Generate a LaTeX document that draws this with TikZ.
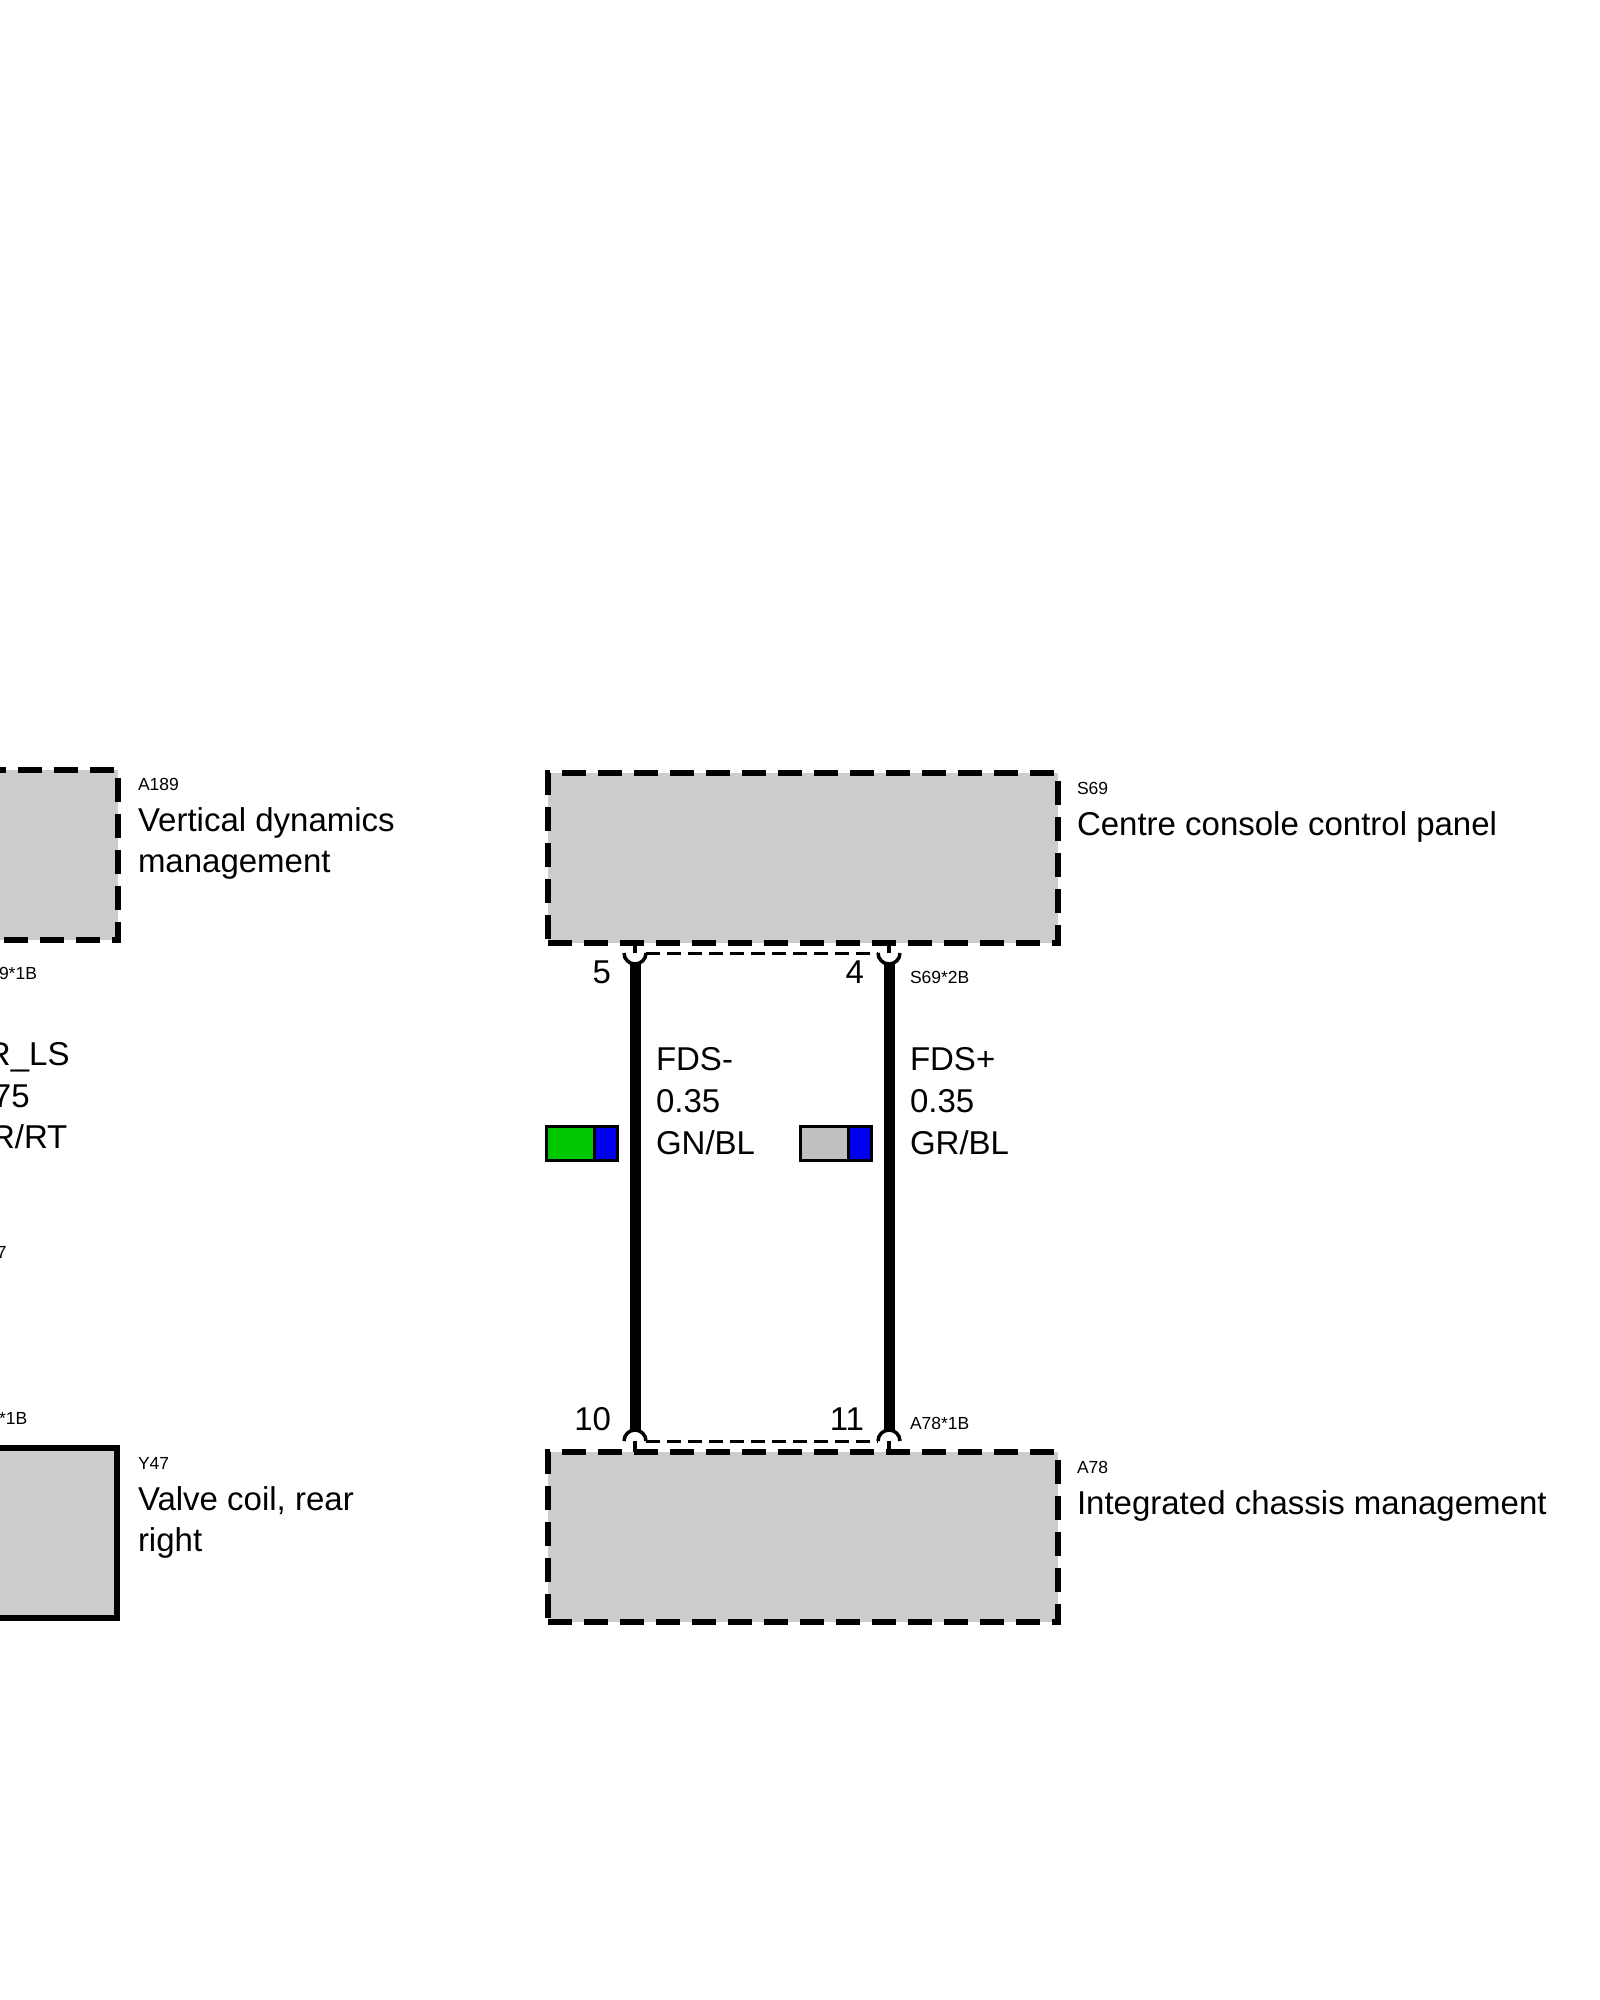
\documentclass[tikz,border=0pt]{standalone}
\usepackage{fontspec}
\setmainfont{Liberation Sans}
\usetikzlibrary{positioning}

\definecolor{boxgrey}{RGB}{204,204,204}
\definecolor{wiregreen}{RGB}{0,200,0}
\definecolor{wireblue}{RGB}{0,0,240}
\definecolor{wiregrey}{RGB}{192,192,192}

\begin{document}
\begin{tikzpicture}[x=1pt, y=-1pt,
    every node/.append style={inner sep=0pt, outer sep=0pt},
    module/.style={draw, fill=boxgrey, line width=6pt, dash pattern=on 24pt off 12pt,
        minimum width=510pt, minimum height=170pt},
    solidmodule/.style={draw, fill=boxgrey, line width=6pt,
        minimum width=510pt, minimum height=170pt},
    wire/.style={line width=11pt},
    pinline/.style={line width=3.5pt},
    screen/.style={line width=3pt, dash pattern=on 14pt off 7pt},
    swatch/.style={draw, line width=3pt},
    bigtext/.style={font=\fontsize{33}{40}\selectfont, anchor=base west},
    smalltext/.style={font=\fontsize{17.5}{20}\selectfont, anchor=base west},
    pinno/.style={font=\fontsize{33}{40}\selectfont, anchor=base east}]

    \useasboundingbox (0,0) rectangle (1600,2000);
    \fill[white] (0,0) rectangle (1600,2000);

    % modules
    \node[module] (a189) at (-137,854.5) {};
    \node[solidmodule] (y47) at (-138,1533) {};
    \node[module] (s69) at (803,858) {};
    \node[module] (a78) at (803,1536.5) {};

    % pins
    \coordinate (t5) at (635,953);
    \coordinate (t4) at (889,953);
    \coordinate (b10) at (635,1441);
    \coordinate (b11) at (889,1441);
    \coordinate (p5) at (635,964);
    \coordinate (p4) at (889,964);
    \coordinate (p10) at (635,1430);
    \coordinate (p11) at (889,1430);

    \draw[pinline] (s69.south -| t5) -- (t5);
    \draw[pinline] (s69.south -| t4) -- (t4);
    \draw[pinline] (a78.north -| b10) -- (b10);
    \draw[pinline] (a78.north -| b11) -- (b11);
    \draw[pinline] ([xshift=-11pt]t5) arc[start angle=180, end angle=0, radius=11];
    \draw[pinline] ([xshift=-11pt]t4) arc[start angle=180, end angle=0, radius=11];
    \draw[pinline] ([xshift=-11pt]b10) arc[start angle=180, end angle=360, radius=11];
    \draw[pinline] ([xshift=-11pt]b11) arc[start angle=180, end angle=360, radius=11];
    \draw[screen] ([xshift=11pt]t5) -- ([xshift=-11pt]t4);
    \draw[screen] ([xshift=11pt]b10) -- ([xshift=-11pt]b11);

    % wires
    \draw[wire] (p5) -- (p10);
    \draw[wire] (p4) -- (p11);

    % colour codes
    \draw[swatch, fill=wiregreen] (546,1126) rectangle (594,1160);
    \draw[swatch, fill=wireblue] (594,1126) rectangle (617,1160);
    \draw[swatch, fill=wiregrey] (800,1126) rectangle (848,1160);
    \draw[swatch, fill=wireblue] (848,1126) rectangle (871,1160);

    % module labels
    \node[smalltext] (a189id) at (138,790) {A189};
    \node[bigtext] (a189name) at (138,831) {Vertical dynamics};
    \node[bigtext] (a189name2) at (138,872) {management};
    \node[smalltext] (y47id) at (138,1469) {Y47};
    \node[bigtext] (y47name) at (138,1510) {Valve coil, rear};
    \node[bigtext] (y47name2) at (138,1551) {right};
    \node[smalltext] (s69id) at (1077,794) {S69};
    \node[bigtext] (s69name) at (1077,835) {Centre console control panel};
    \node[smalltext] (a78id) at (1077,1473) {A78};
    \node[bigtext] (a78name) at (1077,1514) {Integrated chassis management};

    % wire labels
    \node[bigtext] (fdsm) at (656,1070) {FDS-};
    \node[bigtext] (fdsmsize) at (656,1112) {0.35};
    \node[bigtext] (fdsmcol) at (656,1154) {GN/BL};
    \node[bigtext] (fdsp) at (910,1070) {FDS+};
    \node[bigtext] (fdspsize) at (910,1112) {0.35};
    \node[bigtext] (fdspcol) at (910,1154) {GR/BL};
    \node[bigtext] (vdmwire) at (-13,1065) {R\_LS};
    \node[bigtext] (vdmsize) at (-7,1107) {75};
    \node[bigtext] (vdmcol) at (-9,1148) {R/RT};

    % pin numbers and connectors
    \node[pinno] (n5) at (611,983) {5};
    \node[pinno] (n4) at (864,983) {4};
    \node[pinno] (n10) at (611,1430) {10};
    \node[pinno] (n11) at (864,1430) {11};
    \node[smalltext] (s69con) at (910,983) {S69*2B};
    \node[smalltext] (a78con) at (910,1429) {A78*1B};
    \node[smalltext] (a189con) at (-1,979) {9*1B};
    \node[smalltext] (y47con) at (-1,1424) {*1B};
    \node[smalltext] (y47mark) at (-3,1258) {7};
\end{tikzpicture}
\end{document}
